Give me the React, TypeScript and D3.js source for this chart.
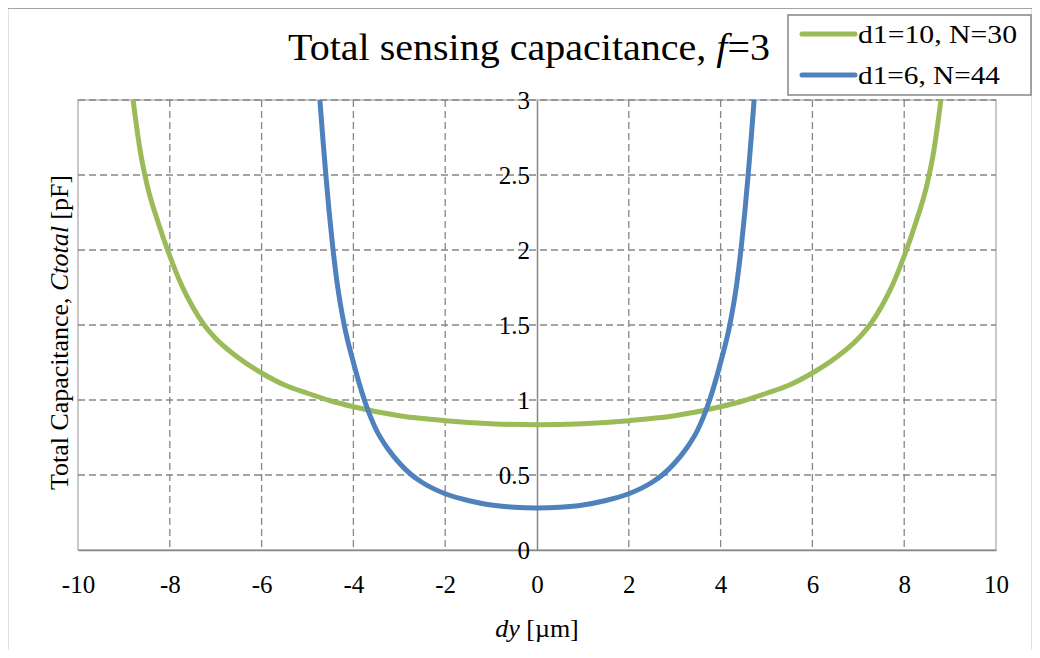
import { useEffect, useRef } from 'react';
import * as d3 from 'd3';

// dy [µm] and total capacitance [pF]
const dyGreen = [
  -8.8, -8.65, -8.5, -8.25, -8, -7.75, -7.5, -7.25, -7, -6.5, -6, -5.5, -5, -4.5, -4, -3, -2, -1, 0,
  1, 2, 3, 4, 4.5, 5, 5.5, 6, 6.5, 7, 7.25, 7.5, 7.75, 8, 8.25, 8.5, 8.65, 8.8,
];
const capGreen = [
  3.0, 2.67, 2.44, 2.18, 1.96, 1.77, 1.62, 1.5, 1.41, 1.28, 1.18, 1.1, 1.045, 0.995, 0.955, 0.895, 0.862, 0.842, 0.835,
  0.842, 0.862, 0.895, 0.955, 0.995, 1.045, 1.1, 1.18, 1.28, 1.41, 1.5, 1.62, 1.77, 1.96, 2.18, 2.44, 2.67, 3.0,
];

const dyBlue = [
  -4.73, -4.67, -4.6, -4.53, -4.45, -4.35, -4.2, -4, -3.75, -3.5, -3.25, -3, -2.75, -2.5, -2, -1.5, -1, -0.5, 0,
  0.5, 1, 1.5, 2, 2.5, 2.75, 3, 3.25, 3.5, 3.75, 4, 4.2, 4.35, 4.45, 4.53, 4.6, 4.67, 4.73,
];
const capBlue = [
  3.0, 2.76, 2.5, 2.26, 2.02, 1.77, 1.5, 1.25, 0.99, 0.8, 0.675, 0.58, 0.505, 0.45, 0.375, 0.33, 0.3, 0.285, 0.28,
  0.285, 0.3, 0.33, 0.375, 0.45, 0.505, 0.58, 0.675, 0.8, 0.99, 1.25, 1.5, 1.77, 2.02, 2.26, 2.5, 2.76, 3.0,
];

const seriesNames = ['d1=10, N=30', 'd1=6, N=44'];
const seriesColors = ['#9bbb59', '#4f81bd'];

const xTicks = [-10, -8, -6, -4, -2, 0, 2, 4, 6, 8, 10];
const yTicks = [0, 0.5, 1, 1.5, 2, 2.5, 3];

const FONT = '"Liberation Serif", serif';

const App = () => {
  const ref = useRef<SVGSVGElement>(null);

  useEffect(() => {
    const svg = d3.select(ref.current);
    svg.selectAll('*').remove();

    const left = 78;
    const right = 996;
    const top = 100;
    const bottom = 550;

    const x = d3.scaleLinear().domain([-10, 10]).range([left, right]);
    const y = d3.scaleLinear().domain([0, 3]).range([bottom, top]);

    // outer frame
    svg
      .append('rect')
      .attr('x', 7.5)
      .attr('y', 8)
      .attr('width', 1025)
      .attr('height', 643.5)
      .attr('fill', '#fff')
      .attr('stroke', '#868686')
      .attr('stroke-width', 1.5);

    svg
      .append('defs')
      .append('clipPath')
      .attr('id', 'plot-clip')
      .append('rect')
      .attr('x', left)
      .attr('y', top)
      .attr('width', right - left)
      .attr('height', bottom - top);

    // plot area border
    svg
      .append('rect')
      .attr('x', left)
      .attr('y', top)
      .attr('width', right - left)
      .attr('height', bottom - top)
      .attr('fill', 'none')
      .attr('stroke', '#a6a6a6')
      .attr('stroke-width', 1.2);

    // dashed grid
    const grid = svg
      .append('g')
      .attr('stroke', '#868686')
      .attr('stroke-width', 1.3)
      .attr('stroke-dasharray', '7,4');

    grid
      .selectAll('line.v')
      .data(xTicks.filter((t) => t !== 0 && t !== -10 && t !== 10))
      .join('line')
      .attr('class', 'v')
      .attr('x1', (d) => x(d))
      .attr('x2', (d) => x(d))
      .attr('y1', top)
      .attr('y2', bottom);

    grid
      .selectAll('line.h')
      .data(yTicks.filter((t) => t !== 0))
      .join('line')
      .attr('class', 'h')
      .attr('x1', left)
      .attr('x2', right)
      .attr('y1', (d) => y(d))
      .attr('y2', (d) => y(d));

    // axes
    const axisX = d3
      .axisBottom(x)
      .tickValues(xTicks)
      .tickSize(0)
      .tickPadding(25)
      .tickFormat((d) => String(d));
    const gx = svg
      .append('g')
      .attr('transform', `translate(0,${y(0)})`)
      .call(axisX);
    gx.select('.domain').attr('stroke', '#868686').attr('stroke-width', 1.5);
    gx.selectAll('text')
      .attr('font-family', FONT)
      .attr('font-size', 25)
      .attr('fill', '#000');

    const axisY = d3
      .axisLeft(y)
      .tickValues(yTicks)
      .tickSize(0)
      .tickPadding(7)
      .tickFormat((d) => String(d));
    const gy = svg
      .append('g')
      .attr('transform', `translate(${x(0)},0)`)
      .call(axisY);
    gy.select('.domain').attr('stroke', '#868686').attr('stroke-width', 1.5);
    gy.selectAll('text')
      .attr('font-family', FONT)
      .attr('font-size', 25)
      .attr('fill', '#000');

    // curves
    const series = [
      { dy: dyGreen, cap: capGreen },
      { dy: dyBlue, cap: capBlue },
    ];
    const line = d3
      .line<[number, number]>()
      .x((d) => x(d[0]))
      .y((d) => y(d[1]))
      .curve(d3.curveMonotoneX);

    const plot = svg.append('g').attr('clip-path', 'url(#plot-clip)');
    series.forEach((s, i) => {
      plot
        .append('path')
        .datum(s.dy.map((v, j) => [v, s.cap[j]] as [number, number]))
        .attr('d', line)
        .attr('fill', 'none')
        .attr('stroke', seriesColors[i])
        .attr('stroke-width', 5)
        .attr('stroke-linejoin', 'round');
    });

    // title
    const title = svg
      .append('text')
      .attr('x', 288)
      .attr('y', 60)
      .attr('font-family', FONT)
      .attr('font-size', 37)
      .attr('textLength', 482)
      .attr('lengthAdjust', 'spacingAndGlyphs');
    title.append('tspan').text('Total sensing capacitance, ');
    title.append('tspan').attr('font-style', 'italic').text('f');
    title.append('tspan').text('=3');

    // axis titles
    const xt = svg
      .append('text')
      .attr('x', 537)
      .attr('y', 637)
      .attr('text-anchor', 'middle')
      .attr('font-family', FONT)
      .attr('font-size', 26);
    xt.append('tspan').attr('font-style', 'italic').text('dy');
    xt.append('tspan').text(' [µm]');

    const yt = svg
      .append('text')
      .attr('transform', 'translate(68,490) rotate(-90)')
      .attr('font-family', FONT)
      .attr('font-size', 25)
      .attr('textLength', 315)
      .attr('lengthAdjust', 'spacingAndGlyphs');
    yt.append('tspan').text('Total Capacitance, ');
    yt.append('tspan').attr('font-style', 'italic').text('Ctotal');
    yt.append('tspan').text(' [pF]');

    // legend
    const lg = svg.append('g');
    lg.append('rect')
      .attr('x', 788)
      .attr('y', 15)
      .attr('width', 243)
      .attr('height', 80)
      .attr('fill', '#fff')
      .attr('stroke', '#868686')
      .attr('stroke-width', 1.5);
    const legendWidths = [159, 142];
    seriesNames.forEach((name, i) => {
      const cy = 34 + i * 41;
      lg.append('line')
        .attr('x1', 802)
        .attr('x2', 855)
        .attr('y1', cy)
        .attr('y2', cy)
        .attr('stroke', seriesColors[i])
        .attr('stroke-width', 5)
        .attr('stroke-linecap', 'round');
      lg.append('text')
        .attr('x', 858)
        .attr('y', cy + 9)
        .attr('font-family', FONT)
        .attr('font-size', 26)
        .attr('textLength', legendWidths[i])
        .attr('lengthAdjust', 'spacingAndGlyphs')
        .text(name);
    });
  }, []);

  return <svg ref={ref} width={1040} height={658} style={{ display: 'block', margin: -8 }} />;
};

export default App;
